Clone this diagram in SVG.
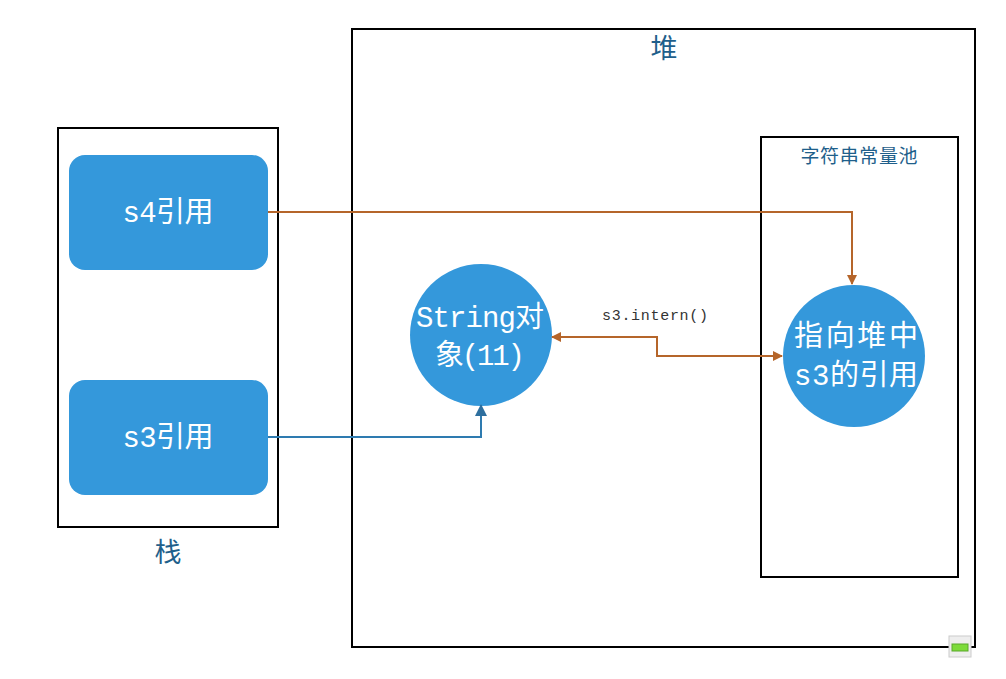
<svg xmlns="http://www.w3.org/2000/svg" width="1006" height="679" viewBox="0 0 1006 679">
<defs>
<style>
.frame{fill:none;stroke:#000;stroke-width:2}
.node{fill:#3498db}
.wt{fill:#fff;font-family:"Liberation Mono","Noto Sans CJK SC",monospace;font-size:29px;text-anchor:middle}
.lbl{fill:#1f5f8b;font-family:"Liberation Serif","Noto Sans CJK SC",serif;text-anchor:middle}
.brown{fill:none;stroke:#b5652a;stroke-width:2}
.blue{fill:none;stroke:#2e7bb0;stroke-width:2}
</style>
<marker id="ab" markerWidth="10" markerHeight="10" refX="9" refY="5" orient="auto" markerUnits="userSpaceOnUse" viewBox="0 0 10 10"><path d="M0,0 L10,5 L0,10 z" fill="#b5652a"/></marker>
<marker id="abs" markerWidth="10" markerHeight="10" refX="1" refY="5" orient="auto" markerUnits="userSpaceOnUse" viewBox="0 0 10 10"><path d="M10,0 L0,5 L10,10 z" fill="#b5652a"/></marker>
<marker id="bl" markerWidth="12" markerHeight="12" refX="11" refY="6" orient="auto" markerUnits="userSpaceOnUse" viewBox="0 0 12 12"><path d="M0,0 L12,6 L0,12 z" fill="#2e6f9e"/></marker>
</defs>
<rect width="1006" height="679" fill="#fff"/>
<g id="heap">
<rect class="frame" x="352" y="29" width="623" height="618"/>
<text class="lbl" x="664" y="58" font-size="27">堆</text>
</g>
<g id="stack">
<rect class="frame" x="58" y="128" width="220" height="399"/>
<text class="lbl" x="168" y="562" font-size="27">栈</text>
</g>
<g id="pool">
<rect class="frame" x="761" y="137" width="197" height="440"/>
<text class="lbl" x="859" y="163" font-size="19" fill="#3a76a8" textLength="117">字符串常量池</text>
</g>
<g id="s4">
<rect class="node" x="69" y="155" width="199" height="115" rx="16"/>
<text class="wt" x="168" y="222" textLength="91">s4引用</text>
</g>
<g id="s3">
<rect class="node" x="69" y="380" width="199" height="115" rx="16"/>
<text class="wt" x="168" y="447" textLength="91">s3引用</text>
</g>
<g id="stringobj">
<circle class="node" cx="481" cy="335" r="71"/>
<text class="wt" x="480" y="327" textLength="128">String对</text>
<text class="wt" x="480" y="365" textLength="90">象(11)</text>
</g>
<g id="poolref">
<circle class="node" cx="854" cy="356" r="71"/>
<text class="wt" x="856" y="346" textLength="124">指向堆中</text>
<text class="wt" x="856" y="385" textLength="124">s3的引用</text>
</g>
<g id="connectors">
<path class="brown" d="M268,212 H852 V284" marker-end="url(#ab)"/>
<path class="brown" d="M552,337 H657 V356 H782" marker-start="url(#abs)" marker-end="url(#ab)"/>
<path class="blue" d="M268,437 H481 V405" marker-end="url(#bl)"/>
<text x="655" y="320" font-family="Liberation Mono,'Noto Sans CJK SC',monospace" font-size="15" fill="#333" text-anchor="middle" textLength="106">s3.intern()</text>
</g>
<g id="icon">
<rect x="949" y="636" width="22" height="21" fill="#eee" stroke="#ccc"/>
<rect x="952" y="644" width="16" height="7" fill="#7ddb3a" stroke="#5aa82a"/>
</g>
</svg>
